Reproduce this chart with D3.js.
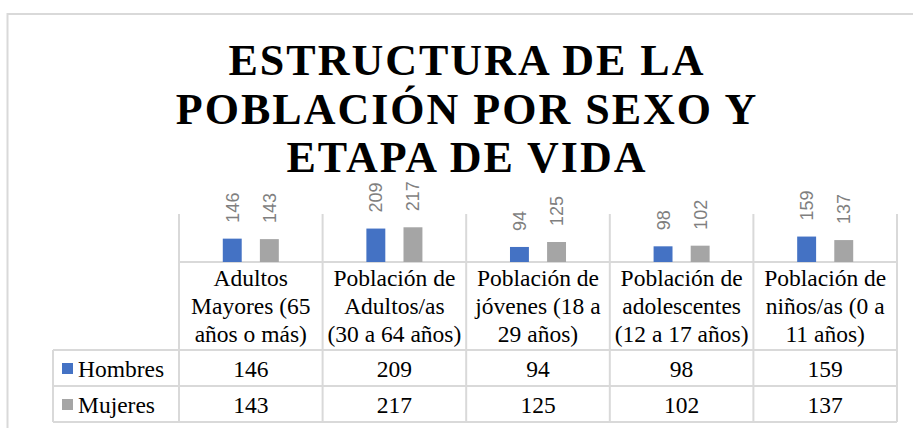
<!DOCTYPE html>
<html>
<head>
<meta charset="utf-8">
<script src="https://cdnjs.cloudflare.com/ajax/libs/d3/7.8.5/d3.min.js"></script>
<style>
  body { margin: 0; background: #fff; }
  svg { display: block; }
</style>
</head>
<body>
<div id="chart"></div>
<script>
// chart data
var titleLines = ["ESTRUCTURA DE LA", "POBLACIÓN POR SEXO Y", "ETAPA DE VIDA"];
var categories = [
    "Adultos Mayores (65 años o más)",
    "Población de Adultos/as (30 a 64 años)",
    "Población de jóvenes (18 a 29 años)",
    "Población de adolescentes (12 a 17 años)",
    "Población de niños/as (0 a 11 años)"
];
var seriesNames = ["Hombres", "Mujeres"];
var hombres = [146, 209, 94, 98, 159];
var mujeres = [143, 217, 125, 102, 137];

var width = 913, height = 428;
var gridColor = "#d9d9d9";
var serif = "Liberation Serif";
var sans = "Liberation Sans";

var color = d3.scaleOrdinal().domain(seriesNames).range(["#4472c4", "#a5a5a5"]);

var data = categories.map(function(c, i) {
    return {cat: c, values: [
        {name: "Hombres", value: hombres[i]},
        {name: "Mujeres", value: mujeres[i]}
    ]};
});

// plot area geometry
var plotLeft = 179, plotRight = 897, baseY = 262, plotTop = 214;
var headerBottom = 350, rowH = 36, tableLeft = 53;

var x0 = d3.scaleBand().domain(categories).range([plotLeft, plotRight]);
var x1 = d3.scaleBand().domain(seriesNames)
    .range([0, x0.bandwidth()])
    .paddingInner(0.49)
    .paddingOuter(1.18);
var y = d3.scaleLinear().domain([0, 300]).range([baseY, plotTop]);

var svg = d3.select("#chart").append("svg")
    .attr("width", width)
    .attr("height", height);

svg.append("rect").attr("width", width).attr("height", height).attr("fill", "#fff");

// outer chart border
svg.append("rect")
    .attr("x", 7.5).attr("y", 14)
    .attr("width", 930).attr("height", 440)
    .attr("fill", "none")
    .attr("stroke", gridColor)
    .attr("stroke-width", 2);

// title
svg.append("g").selectAll("text")
    .data(titleLines)
    .enter().append("text")
    .attr("x", 467)
    .attr("y", function(d, i) { return 75 + i * 48.5; })
    .attr("text-anchor", "middle")
    .attr("font-family", serif)
    .attr("font-weight", "bold")
    .attr("font-size", 44)
    .attr("letter-spacing", 2)
    .attr("fill", "#000")
    .text(function(d) { return d; });

// vertical separators (plot + table)
var bounds = categories.map(function(c) { return x0(c); }).concat([plotRight]);
svg.append("g").selectAll("line")
    .data(bounds)
    .enter().append("line")
    .attr("x1", function(d) { return d; })
    .attr("x2", function(d) { return d; })
    .attr("y1", plotTop)
    .attr("y2", headerBottom + 2 * rowH)
    .attr("stroke", gridColor)
    .attr("stroke-width", 2);

// table horizontal lines
var hLines = [
    {x1: plotLeft, y: baseY},
    {x1: tableLeft, y: headerBottom},
    {x1: tableLeft, y: headerBottom + rowH},
    {x1: tableLeft, y: headerBottom + 2 * rowH}
];
svg.append("g").selectAll("line")
    .data(hLines)
    .enter().append("line")
    .attr("x1", function(d) { return d.x1; })
    .attr("x2", plotRight)
    .attr("y1", function(d) { return d.y; })
    .attr("y2", function(d) { return d.y; })
    .attr("stroke", gridColor)
    .attr("stroke-width", 2);

svg.append("line")
    .attr("x1", tableLeft).attr("x2", tableLeft)
    .attr("y1", headerBottom).attr("y2", headerBottom + 2 * rowH)
    .attr("stroke", gridColor)
    .attr("stroke-width", 2);

// bars
var groups = svg.append("g").selectAll("g")
    .data(data)
    .enter().append("g")
    .attr("transform", function(d) { return "translate(" + x0(d.cat) + ",0)"; });

groups.selectAll("rect")
    .data(function(d) { return d.values; })
    .enter().append("rect")
    .attr("x", function(d) { return x1(d.name); })
    .attr("y", function(d) { return y(d.value); })
    .attr("width", x1.bandwidth())
    .attr("height", function(d) { return baseY - y(d.value); })
    .attr("fill", function(d) { return color(d.name); });

// rotated value labels
groups.selectAll("text")
    .data(function(d) { return d.values; })
    .enter().append("text")
    .attr("transform", function(d) {
        return "translate(" + (x1(d.name) + x1.bandwidth() / 2) + "," + (y(d.value) - 16) + ") rotate(-90)";
    })
    .attr("dy", "0.36em")
    .attr("text-anchor", "start")
    .attr("font-family", sans)
    .attr("font-size", 18)
    .attr("fill", "#7f7f7f")
    .text(function(d) { return d.value; });

// category header (wrapped)
var header = svg.append("g").selectAll("text")
    .data(categories)
    .enter().append("text")
    .attr("x", function(d) { return x0(d) + x0.bandwidth() / 2; })
    .attr("y", 286)
    .attr("text-anchor", "middle")
    .attr("font-family", serif)
    .attr("font-size", 23.5)
    .attr("fill", "#000");

header.each(function(d) {
    var el = d3.select(this);
    var words = d.split(" "), lines = [], line = [];
    var maxW = x0.bandwidth() - 6;
    var probe = el.append("tspan");
    words.forEach(function(w) {
        var test = line.concat([w]).join(" ");
        probe.text(test);
        if (probe.node().getComputedTextLength() > maxW && line.length) {
            lines.push(line.join(" "));
            line = [w];
        } else {
            line.push(w);
        }
    });
    lines.push(line.join(" "));
    probe.remove();
    lines.forEach(function(l, i) {
        el.append("tspan")
            .attr("x", x0(d) + x0.bandwidth() / 2)
            .attr("dy", i === 0 ? 0 : 28)
            .text(l);
    });
});

// data table rows
var rows = [
    {name: "Hombres", values: hombres},
    {name: "Mujeres", values: mujeres}
];
rows.forEach(function(r, ri) {
    var base = headerBottom + ri * rowH + 26.5;
    var g = svg.append("g");
    g.append("rect")
        .attr("x", 62)
        .attr("y", headerBottom + ri * rowH + 13)
        .attr("width", 11).attr("height", 11)
        .attr("fill", color(r.name));
    g.append("text")
        .attr("x", 78).attr("y", base)
        .attr("font-family", serif)
        .attr("font-size", 23.5)
        .text(r.name);
    g.selectAll("text.val")
        .data(r.values)
        .enter().append("text")
        .attr("class", "val")
        .attr("x", function(d, i) { return x0(categories[i]) + x0.bandwidth() / 2; })
        .attr("y", base)
        .attr("text-anchor", "middle")
        .attr("font-family", serif)
        .attr("font-size", 23.5)
        .text(function(d) { return d; });
});
</script>
</body>
</html>
